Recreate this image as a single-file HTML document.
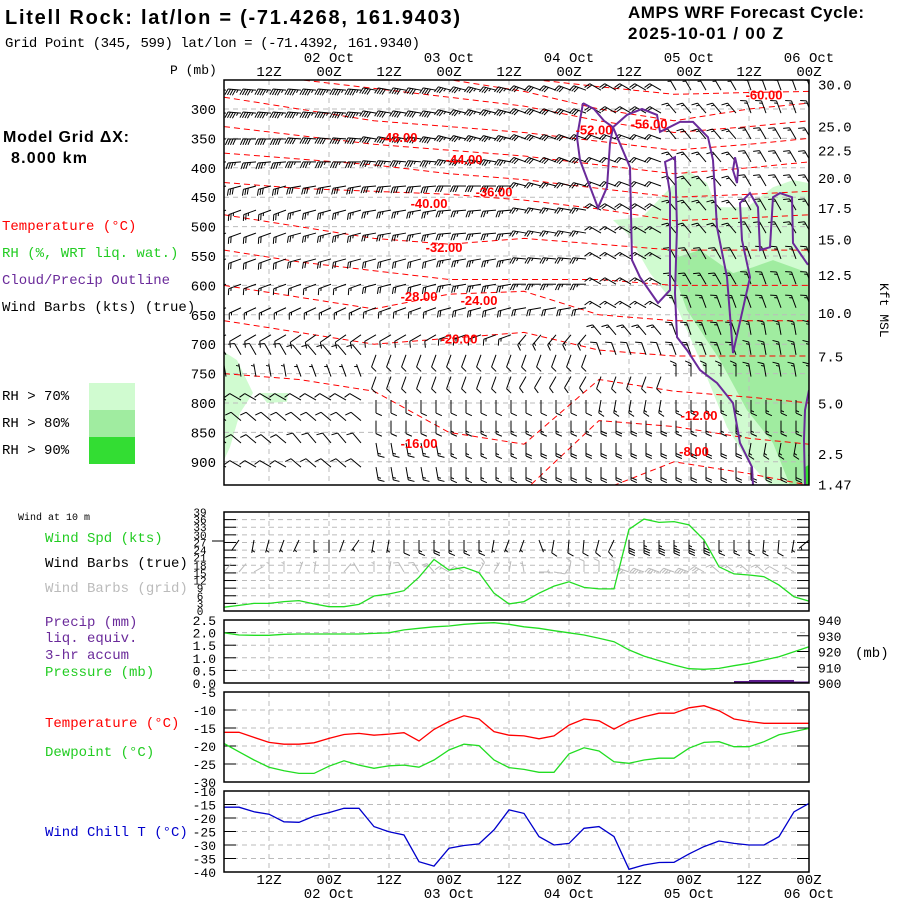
<!DOCTYPE html>
<html><head><meta charset="utf-8"><title>AMPS Meteogram</title>
<style>
html,body{margin:0;padding:0;background:#fff;}
svg{display:block;font-family:"Liberation Mono",monospace;}
.lbl{font-size:14px;}
.ax{font-size:13px;}
</style></head>
<body>
<svg id="chart" width="900" height="900" viewBox="0 0 900 900" xmlns="http://www.w3.org/2000/svg">
<defs>
<clipPath id="clipTop"><rect x="224" y="80" width="585" height="405"/></clipPath>
<clipPath id="clipWS"><rect x="224" y="512" width="585" height="99"/></clipPath>
</defs>
<text x="5" y="24" font-family="Liberation Sans, sans-serif" font-weight="bold" font-size="20" textLength="455">Litell Rock:  lat/lon = (-71.4268, 161.9403)</text>
<text x="5" y="47" font-size="14" textLength="415">Grid Point (345, 599) lat/lon = (-71.4392, 161.9340)</text>
<text x="628" y="18" font-family="Liberation Sans, sans-serif" font-weight="bold" font-size="17" textLength="236">AMPS WRF Forecast Cycle:</text>
<text x="628" y="39" font-family="Liberation Sans, sans-serif" font-weight="bold" font-size="17" textLength="155">2025-10-01 / 00  Z</text>
<text x="3" y="142" font-family="Liberation Sans, sans-serif" font-weight="bold" font-size="16" textLength="126">Model Grid ΔX:</text>
<text x="11" y="163" font-family="Liberation Sans, sans-serif" font-weight="bold" font-size="16" textLength="76">8.000 km</text>
<text x="2" y="230" class="lbl" fill="#ff0000">Temperature (°C)</text>
<text x="2" y="257" class="lbl" fill="#22cc22">RH (%, WRT liq. wat.)</text>
<text x="2" y="284" class="lbl" fill="#6a2a9a">Cloud/Precip Outline</text>
<text x="2" y="311" class="lbl" fill="#000">Wind Barbs (kts) (true)</text>
<text x="2" y="400" class="lbl">RH &gt; 70%</text>
<text x="2" y="427" class="lbl">RH &gt; 80%</text>
<text x="2" y="454" class="lbl">RH &gt; 90%</text>
<rect x="89" y="383" width="46" height="27" fill="#d0fbd0"/>
<rect x="89" y="410" width="46" height="27" fill="#a0eca0"/>
<rect x="89" y="437" width="46" height="27" fill="#33dd33"/>
<text x="170" y="74" class="ax">P (mb)</text>
<text x="880" y="283" class="ax" transform="rotate(90 880 283)">Kft MSL</text>
<text x="18" y="520" font-size="10">Wind at 10 m</text>
<text x="45" y="542" class="lbl" fill="#22cc22">Wind Spd (kts)</text>
<text x="45" y="567" class="lbl" fill="#000">Wind Barbs (true)</text>
<text x="45" y="592" class="lbl" fill="#bbbbbb">Wind Barbs (grid)</text>
<text x="45" y="626" class="lbl" fill="#6a2a9a">Precip (mm)</text>
<text x="45" y="642" class="lbl" fill="#6a2a9a">liq. equiv.</text>
<text x="45" y="659" class="lbl" fill="#6a2a9a">3-hr accum</text>
<text x="45" y="676" class="lbl" fill="#22cc22">Pressure (mb)</text>
<text x="45" y="727" class="lbl" fill="#ff0000">Temperature (°C)</text>
<text x="45" y="756" class="lbl" fill="#22cc22">Dewpoint (°C)</text>
<text x="45" y="836" class="lbl" fill="#0000cc">Wind Chill T (°C)</text>
<text x="855" y="657" class="lbl">(mb)</text>
<g id="layer"></g>
</svg>
<script>
// ---------- data ----------
const hours = [3,6,9,12,15,18,21,24,27,30,33,36,39,42,45,48,51,54,57,60,63,66,69,72,75,78,81,84,87,90,93,96,99,102,105,108,111,114,117,120];
const windSpd = [1.5,2.2,3,3,3.7,4.1,2.8,1.7,1.7,2.6,5.9,6.7,8,13.3,20.3,16.1,17.2,15.1,7,2.8,3.7,7,9.8,11.5,9.3,8.7,8.7,32.2,36.2,34.9,35.2,33.9,28,17.4,14.6,14.2,13.5,10.2,5.6,3.9];
const sfcDir = [200,215,190,195,200,205,180,180,200,215,190,190,180,180,180,180,180,180,190,200,200,160,190,185,185,195,205,180,180,180,180,180,180,180,180,180,185,185,190,230];
const gridDir = [40,40,60,0,0,20,10,0,40,330,0,10,330,330,320,300,300,30,30,10,350,90,100,10,0,0,0,290,290,290,290,290,300,310,310,310,310,300,300,10];
const pressure = [931.9,930.5,930.3,930.3,930.9,931.1,931.1,931.1,931.1,931.1,931.5,931.9,933.7,934.7,935.7,936.2,937.3,937.9,938.3,937.3,935.7,934.7,933.2,931.9,930.5,928.4,926.2,921,917.1,914.2,911.4,909.1,908.7,909.3,911,912.5,914.6,916.7,919.9,923];
const precip = [0,0,0,0,0,0,0,0,0,0,0,0,0,0,0,0,0,0,0,0,0,0,0,0,0,0,0,0,0,0,0,0,0,0,0,0.08,0.12,0.12,0.12,0.06];
const tempSfc = [-16.2,-16.2,-17.6,-19,-19.5,-19.5,-19.1,-17.9,-16.8,-16.5,-17,-16.7,-16.3,-18.6,-15.4,-13.2,-11.6,-12.5,-16,-17,-17.2,-18,-17.2,-14.2,-12.5,-13,-15.3,-13.1,-11.9,-10.9,-10.9,-9.4,-8.8,-10.2,-12.5,-13.2,-13.7,-13.7,-13.7,-13.7];
const dewSfc = [-19.3,-21.6,-23.9,-25.9,-26.9,-27.6,-27.6,-25.6,-24.1,-25.3,-26.2,-25.5,-25.3,-25.9,-23.9,-21.1,-19.5,-19.9,-23.9,-26,-26.5,-27.3,-27.3,-22.2,-20.5,-21.4,-24.4,-24.8,-23.9,-23.4,-23.4,-20.6,-19,-18.8,-20.2,-20.2,-18.8,-16.9,-16,-15.1];
const windChill = [-16,-16,-17.7,-18.6,-21.4,-21.6,-19.3,-18,-16.4,-16.4,-23.2,-25.1,-26.3,-36.2,-37.8,-31.2,-30.2,-29.6,-24.4,-17,-18.3,-26.9,-30,-29.4,-23.8,-23.2,-26.9,-39,-37.4,-36.5,-36.4,-33.3,-30.6,-28.5,-29.4,-30,-30,-26.9,-17.7,-14.6];

// upper-air barbs
const barbLevels = [268,307,351,390,431,472,511,555,598,638,684,718,755,795,830,868,909];
const barbDir = [
[275,275,280,285,290,300,330,340],[275,275,280,285,290,300,320,340],[270,275,280,285,290,290,320,330],
[265,270,275,280,290,290,320,330],[255,260,265,270,285,290,320,330],[250,255,260,265,280,300,320,330],
[250,255,260,265,280,300,320,330],[250,255,255,260,275,300,330,340],[250,250,255,260,270,300,330,340],
[245,245,250,255,260,300,340,340],[240,235,240,250,220,320,340,350],[330,320,200,200,200,340,340,350],
[350,340,200,200,210,200,0,350],[300,300,180,180,180,190,180,180],[310,310,180,180,180,180,180,180],
[310,320,170,180,180,180,180,190],[300,310,170,180,180,180,180,180]];
const barbSpd = [
[45,45,40,35,30,20,15,15],[45,45,40,35,30,20,15,15],[40,40,40,35,30,20,15,15],[35,35,35,35,30,20,15,15],
[30,30,30,30,25,20,15,15],[25,25,25,25,25,20,15,15],[20,25,25,25,25,15,15,15],[20,20,20,25,25,15,15,15],
[15,15,20,25,25,15,15,15],[15,15,15,20,20,15,15,15],[10,10,10,15,15,15,15,15],[10,10,10,10,10,10,15,15],
[5,5,10,10,10,10,15,15],[10,10,10,10,10,15,15,15],[10,10,10,15,15,20,15,15],[10,10,15,15,20,20,20,15],[10,10,15,15,20,20,20,20]];

// isotherms: pressure (mb) at knot hours
const isoKnots = [3,18,33,48,63,78,93,108,120];
const isoTemps = [-60,-56,-52,-48,-44,-40,-36,-32,-28,-24,-20,-16,-12,-8];
const isoP = [
[240,240,240,240,248,262,275,272,270],[240,240,240,250,270,300,320,300,290],[245,250,265,280,295,320,340,330,320],
[280,300,320,330,340,355,370,360,350],[330,345,360,370,380,395,410,400,390],[375,385,395,410,420,435,450,445,440],
[425,435,440,445,455,470,490,485,480],[480,500,520,530,520,530,540,540,540],[540,560,575,590,590,590,600,600,600],
[600,620,640,615,610,650,660,660,660],[660,680,700,690,680,710,720,720,720],[750,760,780,850,870,760,780,790,800],
[950,950,950,950,950,830,840,860,870],[950,950,950,950,950,950,900,920,940]];
const isoLabelText = ["-60.00","-56.00","-52.00","-48.00","-44.00","-40.00","-36.00","-32.00","-28.00","-24.00","-20.00","-16.00","-12.00","-8.00"];
const isoLabelH = [111,88,77,38,51,44,57,47,42,54,50,42,98,97];
const isoLabelP = [275,325,335,348,385,460,440,535,618,625,690,868,820,882];

// RH regions [hour, pressure]
const rh70A = [[86.6,484],[95.6,404],[99.6,426],[101.6,467],[107.6,467],[112.8,433],[116.8,421],[120,426],[120,940],[112.2,940],[107.6,897],[103.6,841],[98.2,727],[93.6,637],[88.2,579],[83.6,511],[80.8,489]];
const rh70B = [[3,713],[5.6,727],[8.8,783],[6.2,817],[4.2,875],[3,897]];
const rh70C = [[10.2,783],[15.8,783],[15.6,798],[11.6,800]];
const rh80A = [[93.6,552],[98.2,540],[104.8,579],[108.8,569],[112.8,557],[120,579],[120,936],[116.2,940],[112.8,868],[107.6,812],[102.2,727],[95.6,642],[93.2,586]];
const rh90A = [[119,910],[120,905],[120,940],[119,940]];

// cloud outlines [hour, pressure]
const cloudA = [[74.8,290],[73.6,348],[74.2,387],[77.8,468],[79.6,433],[80.2,358],[80.8,331],[83.6,310],[86.6,300],[89.6,310],[90.2,339],[94.2,322],[96.8,322],[99.8,348],[100.8,387],[101.6,501],[103.6,586],[104.8,715],[108.2,586],[106.6,523],[106.2,460],[108.2,443],[109.8,467],[110.2,540],[112.2,535],[112.8,450],[114.2,443],[116.6,450],[116.8,528],[119.8,565]];
const cloudA0 = [[74.8,290],[77,300],[79,320],[80.8,331]];
const cloudB = [[80.8,331],[84.2,399],[84.6,557],[86.2,586],[89.8,630],[92.2,608],[92.2,443],[91.2,390],[93.2,382],[93.6,501],[93.2,613],[93.6,688],[95.6,710],[98.2,744],[101.6,766],[104.8,800],[106.2,868],[108.6,909],[108.8,940]];
const cloudC = [[105.2,382],[105.8,404],[105.6,426],[104.8,404],[105.2,382]];
const cloudD = [[120,778],[119.2,812],[119,863],[119.2,940]];

// axis ticks
const pTicks = [300,350,400,450,500,550,600,650,700,750,800,850,900];
const kftLabels = ["30.0","25.0","22.5","20.0","17.5","15.0","12.5","10.0","7.5","5.0","2.5","1.47"];
const kftP = [258,330,371,417,468,522,582,647,721,801,887,939];
const timeTickH = [12,24,36,48,60,72,84,96,108,120];
const timeTickLbl = ["12Z","00Z","12Z","00Z","12Z","00Z","12Z","00Z","12Z","00Z"];
const dateH = [24,48,72,96,120];
const dateLbl = ["02 Oct","03 Oct","04 Oct","05 Oct","06 Oct"];
const wsTicks = [0,3,6,9,12,15,18,21,24,27,30,33,36,39];
const precipTicks = [0,0.5,1,1.5,2,2.5];
const prTicks = [900,910,920,930,940];
const tTicks = [-5,-10,-15,-20,-25,-30];
const wcTicks = [-10,-15,-20,-25,-30,-35,-40];

// ---------- scales ----------
const xH = h => 224 + (h - 3) * 5;
const yP = p => 109 + (p - 300) / 50 * 29.4;
const yWS = v => 611 - v * 99 / 39;
const yPr = p => 683 - (p - 900) * 63 / 40;
const yPc = mm => 683 - mm * 63 / 2.5;
const yT = t => 692 + (-5 - t) * 3.6;
const yWC = t => 791 + (-10 - t) * 2.7;

const NS = "http://www.w3.org/2000/svg";
const layer = document.getElementById('layer');
function mk(tag, attrs, name, parent) {
  const el = document.createElementNS(NS, tag);
  for (const k in attrs) el.setAttribute(k, attrs[k]);
  
  
  (parent || layer).appendChild(el);
  return el;
}
function txt(x, y, s, name, extra) {
  const t = mk('text', Object.assign({x: x, y: y, 'font-size': 13}, extra || {}), name);
  t.textContent = s;
  return t;
}
function poly(pts, fx, fy, attrs, name, parent) {
  const d = pts.map((p, i) => (i ? 'L' : 'M') + fx(p[0]).toFixed(1) + ' ' + fy(p[1]).toFixed(1)).join(' ');
  return mk('path', Object.assign({d: d, fill: 'none'}, attrs), name, parent);
}
function series(vals, fy, color, name) {
  return poly(vals.map((v, i) => [hours[i], v]), xH, fy, {stroke: color, 'stroke-width': 1.3}, name);
}
function barb(x, y, dir, spd, L, color, name, parent) {
  const g = mk('g', {stroke: color, 'stroke-width': 1, fill: 'none'}, name, parent);
  const r = dir * Math.PI / 180;
  const ux = Math.sin(r), uy = -Math.cos(r);
  const px = uy, py = -ux;
  const tx = x + ux * L, ty = y + uy * L;
  mk('line', {x1: x, y1: y, x2: tx, y2: ty}, 'barb-staff', g);
  let s = Math.round(spd / 5) * 5, pos = 0;
  const tl = L * 0.5;
  while (s >= 50) {
    const bx = tx - ux * pos, by = ty - uy * pos;
    mk('path', {d: `M${bx} ${by} L${bx + px * tl} ${by + py * tl} L${bx - ux * 3} ${by - uy * 3} Z`, fill: color}, 'barb-flag', g);
    s -= 50; pos += 4;
  }
  while (s >= 10) {
    const bx = tx - ux * pos, by = ty - uy * pos;
    mk('line', {x1: bx, y1: by, x2: bx + (px * 0.9 + ux * 0.4) * tl, y2: by + (py * 0.9 + uy * 0.4) * tl}, 'barb-tick', g);
    s -= 10; pos += 2.5;
  }
  if (s >= 5) {
    if (pos === 0) pos = 2.5;
    const bx = tx - ux * pos, by = ty - uy * pos;
    mk('line', {x1: bx, y1: by, x2: bx + (px * 0.9 + ux * 0.4) * tl * 0.5, y2: by + (py * 0.9 + uy * 0.4) * tl * 0.5}, 'barb-half-tick', g);
  }
}
const grid = {stroke: '#bbbbbb', 'stroke-width': 1, 'stroke-dasharray': '5,4'};

// ---------- top panel ----------
const topClip = mk('g', {'clip-path': 'url(#clipTop)'}, 'upper-air-plot');
poly(rh70A, xH, yP, {fill: '#d0fbd0', stroke: 'none'}, 'rh70-region', topClip);
poly(rh70B, xH, yP, {fill: '#d0fbd0', stroke: 'none'}, 'rh70-region-left', topClip);
poly(rh70C, xH, yP, {fill: '#d0fbd0', stroke: 'none'}, 'rh70-region-patch', topClip);
poly(rh80A, xH, yP, {fill: '#a0eca0', stroke: 'none'}, 'rh80-region', topClip);
poly(rh90A, xH, yP, {fill: '#33dd33', stroke: 'none'}, 'rh90-region', topClip);
pTicks.forEach(p => mk('line', Object.assign({x1: 224, x2: 809, y1: yP(p), y2: yP(p)}, grid), 'pressure-gridline', topClip));
timeTickH.forEach(h => mk('line', Object.assign({x1: xH(h), x2: xH(h), y1: 80, y2: 485}, grid), 'time-gridline', topClip));
isoP.forEach((row, i) => poly(row.map((p, j) => [isoKnots[j], p]), xH, yP, {stroke: '#ff0000', 'stroke-width': 1, 'stroke-dasharray': '6,4'}, 'isotherm', topClip));
barbLevels.forEach((p, li) => {
  hours.forEach((h, ci) => {
    const seg = Math.min(7, Math.floor(ci / 5));
    barb(xH(h) + 2, yP(p), barbDir[li][seg], barbSpd[li][seg], 13, '#000', 'upper-wind-barb', topClip);
  });
});
[cloudA0, cloudA, cloudB, cloudC, cloudD].forEach(c => poly(c, xH, yP, {stroke: '#6a2a9a', 'stroke-width': 2}, 'cloud-outline', topClip));
isoLabelText.forEach((s, i) => {
  txt(xH(isoLabelH[i]), yP(isoLabelP[i]) + 5, s, 'isotherm-label', {fill: '#ff0000', 'font-family': 'Liberation Sans, sans-serif', 'font-weight': 'bold', 'font-size': 13, 'text-anchor': 'middle'});
});
mk('rect', {x: 224, y: 80, width: 585, height: 405, fill: 'none', stroke: '#000', 'stroke-width': 1.5}, 'upper-panel-frame');
pTicks.forEach(p => txt(216, yP(p) + 5, String(p), 'pressure-tick-label', {'text-anchor': 'end', 'font-size': 14}));
kftLabels.forEach((s, i) => txt(818, yP(kftP[i]) + 5, s, 'kft-tick-label', {'font-size': 14}));
timeTickH.forEach((h, i) => {
  txt(xH(h), 76, timeTickLbl[i], 'top-time-label', {'text-anchor': 'middle', 'font-size': 14});
  txt(xH(h), 884, timeTickLbl[i], 'bottom-time-label', {'text-anchor': 'middle', 'font-size': 14});
});
dateH.forEach((h, i) => {
  txt(xH(h), 62, dateLbl[i], 'top-date-label', {'text-anchor': 'middle', 'font-size': 14});
  txt(xH(h), 898, dateLbl[i], 'bottom-date-label', {'text-anchor': 'middle', 'font-size': 14});
});

// ---------- wind panel ----------
const wsClip = mk('g', {'clip-path': 'url(#clipWS)'}, 'wind-plot');
wsTicks.forEach(v => {
  mk('line', Object.assign({x1: 224, x2: 809, y1: yWS(v), y2: yWS(v)}, grid), 'wind-gridline', wsClip);
  mk('line', {x1: 224, x2: 236, y1: yWS(v), y2: yWS(v), stroke: '#000'}, 'wind-tick-left', wsClip);
  mk('line', {x1: 797, x2: 809, y1: yWS(v), y2: yWS(v), stroke: '#000'}, 'wind-tick-right', wsClip);
});
timeTickH.forEach(h => mk('line', Object.assign({x1: xH(h), x2: xH(h), y1: 512, y2: 611}, grid), 'time-gridline', wsClip));
hours.forEach((h, i) => {
  barb(xH(h), 572, gridDir[i], windSpd[i], 11, '#bbbbbb', 'grid-wind-barb', wsClip);
  barb(xH(h), 540, sfcDir[i], windSpd[i], 13, '#000', 'true-wind-barb', wsClip);
});
series(windSpd, yWS, '#22dd22', 'wind-speed-line');
mk('rect', {x: 224, y: 512, width: 585, height: 99, fill: 'none', stroke: '#000', 'stroke-width': 1.5}, 'wind-panel-frame');
mk('line', {x1: 212, x2: 224, y1: 541, y2: 541, stroke: '#000'}, 'wind-ref-tick');
wsTicks.forEach(v => txt(200, yWS(v) + 4, String(v), 'wind-tick-label', {'text-anchor': 'middle', 'font-size': 11}));

// ---------- precip/pressure panel ----------
precipTicks.forEach(v => {
  mk('line', Object.assign({x1: 224, x2: 809, y1: yPc(v), y2: yPc(v)}, grid), 'precip-gridline');
  mk('line', {x1: 224, x2: 236, y1: yPc(v), y2: yPc(v), stroke: '#000'}, 'precip-tick');
  txt(216, yPc(v) + 5, v.toFixed(1), 'precip-tick-label', {'text-anchor': 'end', 'font-size': 13});
});
prTicks.forEach(v => {
  mk('line', {x1: 797, x2: 809, y1: yPr(v), y2: yPr(v), stroke: '#000'}, 'pressure-tick');
  txt(818, yPr(v) + 5, String(v), 'pressure-sfc-tick-label', {'font-size': 13});
});
timeTickH.forEach(h => mk('line', Object.assign({x1: xH(h), x2: xH(h), y1: 620, y2: 683}, grid), 'time-gridline'));
precip.forEach((v, i) => {
  if (v > 0) mk('rect', {x: xH(hours[i]) - 15, y: yPc(v), width: 15, height: 683 - yPc(v), fill: '#5a1a8a'}, 'precip-bar');
});
series(pressure, yPr, '#22dd22', 'pressure-line');
mk('rect', {x: 224, y: 620, width: 585, height: 63, fill: 'none', stroke: '#000', 'stroke-width': 1.5}, 'pressure-panel-frame');

// ---------- temperature panel ----------
tTicks.forEach(v => {
  mk('line', Object.assign({x1: 224, x2: 809, y1: yT(v), y2: yT(v)}, grid), 'temp-gridline');
  mk('line', {x1: 224, x2: 236, y1: yT(v), y2: yT(v), stroke: '#000'}, 'temp-tick');
  mk('line', {x1: 797, x2: 809, y1: yT(v), y2: yT(v), stroke: '#000'}, 'temp-tick-right');
  txt(216, yT(v) + 5, String(v), 'temp-tick-label', {'text-anchor': 'end', 'font-size': 13});
});
timeTickH.forEach(h => mk('line', Object.assign({x1: xH(h), x2: xH(h), y1: 692, y2: 782}, grid), 'time-gridline'));
series(tempSfc, yT, '#ff0000', 'temperature-line');
series(dewSfc, yT, '#22dd22', 'dewpoint-line');
mk('rect', {x: 224, y: 692, width: 585, height: 90, fill: 'none', stroke: '#000', 'stroke-width': 1.5}, 'temp-panel-frame');

// ---------- wind chill panel ----------
wcTicks.forEach(v => {
  mk('line', Object.assign({x1: 224, x2: 809, y1: yWC(v), y2: yWC(v)}, grid), 'windchill-gridline');
  mk('line', {x1: 224, x2: 236, y1: yWC(v), y2: yWC(v), stroke: '#000'}, 'windchill-tick');
  mk('line', {x1: 797, x2: 809, y1: yWC(v), y2: yWC(v), stroke: '#000'}, 'windchill-tick-right');
  txt(216, yWC(v) + 5, String(v), 'windchill-tick-label', {'text-anchor': 'end', 'font-size': 13});
});
timeTickH.forEach(h => mk('line', Object.assign({x1: xH(h), x2: xH(h), y1: 791, y2: 872}, grid), 'time-gridline'));
series(windChill, yWC, '#0000cc', 'wind-chill-line');
mk('rect', {x: 224, y: 791, width: 585, height: 81, fill: 'none', stroke: '#000', 'stroke-width': 1.5}, 'windchill-panel-frame');
</script>
</body></html>
